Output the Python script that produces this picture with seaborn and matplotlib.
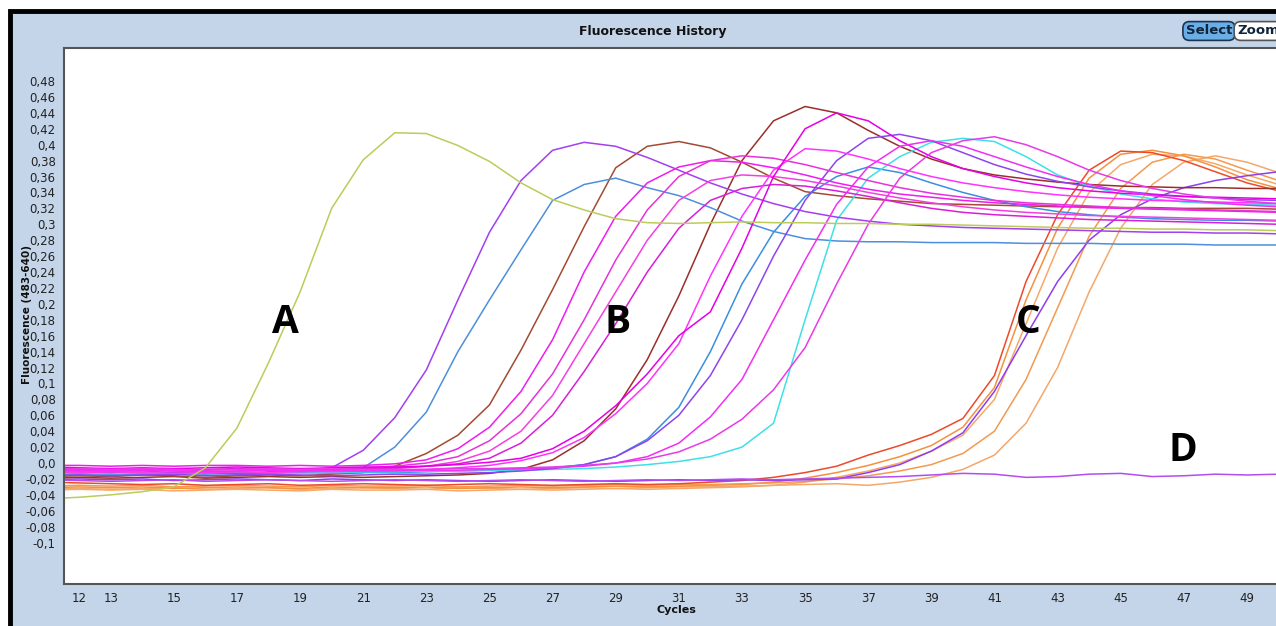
import numpy as np
import pandas as pd
import matplotlib
matplotlib.use("Agg")
import matplotlib.pyplot as plt
import seaborn as sns
from matplotlib import font_manager
from matplotlib.patches import Rectangle

# cycles 11..50 (cycle 11 only shows as the stub at the left edge)
cycles = list(range(11, 51))

# --- curve values (c11-21 / c22-31 / c32-41 / c42-50) ---
curve_a = [-0.045, -0.043, -0.040, -0.036, -0.030, -0.006, 0.044, 0.126, 0.215, 0.320, 0.381,
           0.415, 0.414, 0.399, 0.379, 0.352, 0.331, 0.318, 0.307, 0.302, 0.301,
           0.302, 0.303, 0.302, 0.302, 0.301, 0.301, 0.300, 0.300, 0.299, 0.298,
           0.297, 0.296, 0.295, 0.295, 0.294, 0.294, 0.293, 0.293, 0.292]

b_purple1 = [-0.010, -0.011, -0.012, -0.010, -0.012, -0.011, -0.013, -0.011, -0.010, -0.006, 0.016,
             0.057, 0.117, 0.205, 0.290, 0.355, 0.393, 0.403, 0.398, 0.384, 0.368,
             0.352, 0.338, 0.326, 0.316, 0.309, 0.304, 0.300, 0.298, 0.296, 0.295,
             0.294, 0.293, 0.292, 0.291, 0.290, 0.290, 0.289, 0.289, 0.288]

b_blue1 = [-0.015, -0.014, -0.013, -0.015, -0.013, -0.014, -0.012, -0.013, -0.012, -0.011, -0.006,
           0.020, 0.064, 0.140, 0.205, 0.268, 0.330, 0.350, 0.358, 0.346, 0.336,
           0.321, 0.304, 0.291, 0.282, 0.279, 0.278, 0.278, 0.277, 0.277, 0.277,
           0.276, 0.276, 0.276, 0.275, 0.275, 0.275, 0.274, 0.274, 0.274]

b_brown1 = [-0.017, -0.016, -0.017, -0.015, -0.016, -0.018, -0.016, -0.015, -0.016, -0.014, -0.012,
            -0.004, 0.012, 0.035, 0.073, 0.142, 0.218, 0.297, 0.371, 0.398, 0.404,
            0.396, 0.378, 0.358, 0.341, 0.336, 0.332, 0.329, 0.326, 0.325, 0.324,
            0.323, 0.322, 0.322, 0.321, 0.321, 0.320, 0.320, 0.320, 0.319]

b_mag1 = [-0.003, -0.003, -0.004, -0.003, -0.004, -0.003, -0.003, -0.004, -0.003, -0.004, -0.003,
          -0.001, 0.004, 0.018, 0.045, 0.090, 0.155, 0.240, 0.310, 0.352, 0.372,
          0.380, 0.378, 0.371, 0.362, 0.352, 0.344, 0.338, 0.334, 0.330, 0.327,
          0.325, 0.323, 0.321, 0.320, 0.319, 0.318, 0.317, 0.316, 0.315]

b_mag2 = [-0.009, -0.008, -0.009, -0.008, -0.010, -0.009, -0.008, -0.009, -0.008, -0.007, -0.006,
          -0.004, 0.000, 0.008, 0.028, 0.062, 0.112, 0.180, 0.255, 0.318, 0.360,
          0.380, 0.386, 0.383, 0.375, 0.365, 0.355, 0.346, 0.339, 0.334, 0.330,
          0.327, 0.325, 0.323, 0.321, 0.320, 0.319, 0.318, 0.317, 0.316]

b_mag3 = [-0.011, -0.012, -0.011, -0.012, -0.013, -0.012, -0.011, -0.012, -0.011, -0.010, -0.009,
          -0.007, -0.004, 0.002, 0.015, 0.040, 0.085, 0.150, 0.215, 0.280, 0.330,
          0.355, 0.362, 0.360, 0.355, 0.348, 0.340, 0.333, 0.327, 0.322, 0.318,
          0.315, 0.313, 0.311, 0.310, 0.309, 0.308, 0.307, 0.306, 0.305]

b_mag4 = [-0.008, -0.007, -0.008, -0.007, -0.009, -0.008, -0.007, -0.008, -0.007, -0.008, -0.007,
          -0.006, -0.004, -0.001, 0.006, 0.025, 0.060, 0.115, 0.175, 0.240, 0.295,
          0.330, 0.345, 0.350, 0.348, 0.342, 0.335, 0.327, 0.320, 0.315, 0.312,
          0.310, 0.308, 0.306, 0.305, 0.304, 0.303, 0.302, 0.301, 0.300]

b_brown2 = [-0.019, -0.018, -0.019, -0.018, -0.017, -0.019, -0.018, -0.017, -0.018, -0.017, -0.018,
            -0.017, -0.016, -0.015, -0.013, -0.008, 0.004, 0.028, 0.068, 0.130, 0.210,
            0.300, 0.380, 0.430, 0.448, 0.440, 0.418, 0.398, 0.382, 0.370, 0.362,
            0.357, 0.353, 0.350, 0.348, 0.347, 0.346, 0.346, 0.345, 0.345]

b_mag5 = [-0.011, -0.010, -0.011, -0.010, -0.009, -0.011, -0.010, -0.009, -0.010, -0.011, -0.010,
          -0.009, -0.008, -0.006, -0.003, 0.003, 0.013, 0.032, 0.062, 0.100, 0.150,
          0.235, 0.310, 0.368, 0.395, 0.392, 0.382, 0.370, 0.360, 0.352, 0.346,
          0.341, 0.337, 0.334, 0.332, 0.330, 0.329, 0.328, 0.327, 0.326]

b_mag6 = [-0.005, -0.006, -0.007, -0.006, -0.007, -0.006, -0.005, -0.006, -0.007, -0.006, -0.005,
          -0.005, -0.004, -0.002, 0.001, 0.006, 0.018, 0.040, 0.072, 0.112, 0.160,
          0.190, 0.270, 0.360, 0.420, 0.440, 0.430, 0.405, 0.385, 0.370, 0.360,
          0.352, 0.346, 0.342, 0.339, 0.337, 0.335, 0.334, 0.333, 0.332]

b_blue2 = [-0.014, -0.013, -0.014, -0.013, -0.012, -0.013, -0.014, -0.013, -0.012, -0.013, -0.012,
           -0.012, -0.011, -0.010, -0.009, -0.008, -0.006, -0.002, 0.008, 0.030, 0.070,
           0.140, 0.225, 0.290, 0.335, 0.360, 0.372, 0.365, 0.352, 0.340, 0.330,
           0.322, 0.316, 0.312, 0.309, 0.307, 0.306, 0.305, 0.305, 0.304]

b_purple2 = [-0.016, -0.015, -0.016, -0.015, -0.014, -0.016, -0.015, -0.014, -0.015, -0.016, -0.015,
             -0.014, -0.014, -0.013, -0.012, -0.010, -0.007, -0.002, 0.008, 0.028, 0.060,
             0.110, 0.180, 0.260, 0.330, 0.380, 0.408, 0.413, 0.405, 0.390, 0.375,
             0.363, 0.354, 0.347, 0.342, 0.338, 0.335, 0.333, 0.331, 0.330]

b_mag8 = [-0.010, -0.009, -0.010, -0.009, -0.010, -0.011, -0.010, -0.009, -0.010, -0.009, -0.010,
          -0.010, -0.009, -0.009, -0.008, -0.007, -0.006, -0.004, 0.000, 0.008, 0.025,
          0.058, 0.105, 0.180, 0.255, 0.325, 0.372, 0.398, 0.405, 0.398, 0.385,
          0.372, 0.360, 0.350, 0.342, 0.336, 0.331, 0.327, 0.324, 0.322]

b_cyan = [-0.013, -0.012, -0.013, -0.012, -0.013, -0.012, -0.011, -0.012, -0.013, -0.012, -0.011,
          -0.011, -0.010, -0.010, -0.009, -0.009, -0.008, -0.007, -0.005, -0.002, 0.002,
          0.008, 0.020, 0.050, 0.180, 0.305, 0.358, 0.385, 0.403, 0.408, 0.404,
          0.385, 0.362, 0.348, 0.338, 0.332, 0.328, 0.326, 0.325, 0.324]

b_mag9 = [-0.008, -0.007, -0.008, -0.007, -0.008, -0.009, -0.008, -0.007, -0.008, -0.007, -0.008,
          -0.008, -0.008, -0.007, -0.007, -0.006, -0.005, -0.003, 0.000, 0.005, 0.014,
          0.030, 0.055, 0.092, 0.145, 0.225, 0.300, 0.358, 0.390, 0.405, 0.410,
          0.400, 0.385, 0.368, 0.355, 0.345, 0.338, 0.333, 0.329, 0.326]

c_orange1 = [-0.024, -0.025, -0.026, -0.027, -0.026, -0.028, -0.027, -0.026, -0.028, -0.027, -0.026,
             -0.027, -0.028, -0.027, -0.026, -0.027, -0.028, -0.027, -0.026, -0.027, -0.026,
             -0.024, -0.022, -0.018, -0.012, -0.004, 0.010, 0.022, 0.036, 0.056, 0.110,
             0.228, 0.312, 0.368, 0.392, 0.390, 0.380, 0.366, 0.352, 0.342]

c_orange2 = [-0.031, -0.030, -0.031, -0.030, -0.032, -0.031, -0.030, -0.031, -0.032, -0.030, -0.031,
             -0.031, -0.030, -0.032, -0.031, -0.030, -0.031, -0.030, -0.029, -0.030, -0.029,
             -0.028, -0.027, -0.024, -0.019, -0.012, -0.003, 0.008, 0.022, 0.045, 0.095,
             0.205, 0.295, 0.358, 0.388, 0.393, 0.386, 0.372, 0.356, 0.345]

c_orange3 = [-0.034, -0.033, -0.034, -0.033, -0.035, -0.034, -0.033, -0.034, -0.035, -0.033, -0.034,
             -0.034, -0.033, -0.035, -0.034, -0.033, -0.034, -0.033, -0.032, -0.033, -0.032,
             -0.031, -0.030, -0.028, -0.024, -0.018, -0.010, 0.000, 0.015, 0.035, 0.080,
             0.175, 0.270, 0.340, 0.375, 0.388, 0.386, 0.376, 0.362, 0.350]

c_purple = [-0.021, -0.020, -0.021, -0.020, -0.022, -0.021, -0.020, -0.021, -0.022, -0.020, -0.021,
            -0.022, -0.021, -0.022, -0.023, -0.022, -0.021, -0.022, -0.023, -0.022, -0.021,
            -0.022, -0.021, -0.022, -0.021, -0.020, -0.012, -0.002, 0.015, 0.038, 0.090,
            0.160, 0.228, 0.280, 0.312, 0.332, 0.346, 0.355, 0.361, 0.366]

c_orange4 = [-0.029, -0.028, -0.029, -0.028, -0.030, -0.029, -0.028, -0.029, -0.030, -0.028, -0.029,
             -0.029, -0.028, -0.030, -0.029, -0.028, -0.029, -0.028, -0.027, -0.028, -0.027,
             -0.027, -0.026, -0.025, -0.023, -0.020, -0.016, -0.010, -0.002, 0.012, 0.040,
             0.105, 0.195, 0.285, 0.345, 0.378, 0.388, 0.382, 0.368, 0.355]

c_orange5 = [-0.033, -0.032, -0.033, -0.032, -0.031, -0.033, -0.032, -0.031, -0.033, -0.032, -0.031,
             -0.032, -0.033, -0.031, -0.032, -0.033, -0.032, -0.031, -0.032, -0.031, -0.030,
             -0.030, -0.029, -0.028, -0.027, -0.026, -0.028, -0.024, -0.018, -0.008, 0.010,
             0.050, 0.120, 0.215, 0.295, 0.350, 0.378, 0.386, 0.378, 0.365]

d_purple = [-0.021, -0.022, -0.023, -0.022, -0.021, -0.023, -0.022, -0.021, -0.022, -0.023, -0.022,
            -0.021, -0.022, -0.023, -0.022, -0.021, -0.022, -0.023, -0.022, -0.021, -0.022,
            -0.021, -0.020, -0.021, -0.020, -0.019, -0.018, -0.017, -0.015, -0.013, -0.014,
            -0.018, -0.017, -0.014, -0.013, -0.017, -0.016, -0.014, -0.015, -0.014]

samples = {
    "C orange 5": c_orange5, "C orange 3": c_orange3, "C orange 2": c_orange2,
    "C orange 4": c_orange4, "C orange 1": c_orange1, "C purple": c_purple,
    "D": d_purple,
    "B brown 2": b_brown2, "B brown 1": b_brown1,
    "B blue 1": b_blue1, "B blue 2": b_blue2, "B cyan": b_cyan,
    "B purple 1": b_purple1, "B purple 2": b_purple2,
    "B mag 1": b_mag1, "B mag 2": b_mag2, "B mag 3": b_mag3, "B mag 4": b_mag4,
    "B mag 5": b_mag5, "B mag 6": b_mag6, "B mag 8": b_mag8, "B mag 9": b_mag9,
    "A": curve_a,
}

palette = {
    "A": "#bccb5a",
    "B purple 1": "#a23ff0", "B purple 2": "#8e44ee",
    "B blue 1": "#4d8fdc", "B blue 2": "#3a8fe0", "B cyan": "#3ee0e6",
    "B brown 1": "#a34a32", "B brown 2": "#9a2f2a",
    "B mag 1": "#f01cf0", "B mag 2": "#e633d9", "B mag 3": "#f53fe0",
    "B mag 4": "#d81fd8", "B mag 5": "#ff33ff", "B mag 6": "#e600e6",
    "B mag 8": "#f22ef2", "B mag 9": "#e83ae8",
    "C orange 1": "#ec4a2a", "C orange 2": "#f4913f", "C orange 3": "#f7a868",
    "C orange 4": "#f29a50", "C orange 5": "#f5a76a", "C purple": "#8f3df0",
    "D": "#b44cf0",
}

rows = []
for name, vals in samples.items():
    for c, v in zip(cycles, vals):
        rows.append({"sample": name, "cycle": c, "fluorescence": v})
df = pd.DataFrame(rows)

y_ticks = [round(-0.1 + 0.02 * i, 2) for i in range(30)]
x_ticks = [12, 13] + list(range(15, 50, 2))
letters = [("A", 18.55, 0.177), ("B", 29.07, 0.177), ("C", 42.06, 0.177), ("D", 46.97, 0.016)]

# --- style ---
sns.set_style("white")
font_names = {f.name for f in font_manager.fontManager.ttflist}
tick_font = ["Liberation Sans Narrow", "DejaVu Sans"] if "Liberation Sans Narrow" in font_names else ["DejaVu Sans"]
bold_faces = {f.name for f in font_manager.fontManager.ttflist if f.weight in (700, "bold")}
letter_font = "DejaVu Sans"
for cand in ["Open Sans", "Lato", "Noto Sans", "Liberation Sans"]:
    if cand in bold_faces:
        letter_font = cand
        break
plt.rcParams["font.family"] = ["DejaVu Sans"]

W, H = 1276, 626
fig = plt.figure(figsize=(W / 100, H / 100), dpi=100)
fig.patch.set_facecolor("white")

# light-blue panel with black frame (behind the axes)
panel = Rectangle((10 / W, -0.02), 1.05, 1 - 11 / H + 0.02, transform=fig.transFigure,
                  facecolor="#c5d5e9", edgecolor="black", linewidth=3.5, zorder=-5)
fig.patches.append(panel)

ax = fig.add_axes([64 / W, (H - 584) / H, (W - 64) / W, (584 - 48) / H])
ax.set_zorder(1)
ax.set_facecolor("white")

sns.lineplot(data=df, x="cycle", y="fluorescence", hue="sample", palette=palette,
             legend=False, linewidth=1.1, estimator=None, sort=False, ax=ax)

ax.set_xlim(11.52, 49.92)
ax.set_ylim(-0.152, 0.5215)

ax.set_xticks(x_ticks)
ax.set_xticklabels([str(t) for t in x_ticks])
ax.set_yticks(y_ticks)


def fmt(v):
    s = f"{v:.2f}"
    if s.endswith("0"):
        s = s[:-1]
    if s == "-0.0":
        s = "0.0"
    return s.replace(".", ",")


ax.set_yticklabels([fmt(v) for v in y_ticks])
ax.set_yticks([round(-0.11 + 0.01 * i, 2) for i in range(61)], minor=True)
ax.tick_params(axis="both", which="major", direction="out", length=4, width=0.8,
               color="#666666", labelsize=8.5, labelcolor="#222222", pad=2)
ax.tick_params(axis="y", which="minor", direction="out", length=2, width=0.6, color="#888888")
for lab in ax.get_xticklabels() + ax.get_yticklabels():
    lab.set_family(tick_font)

for side in ["left", "bottom", "top"]:
    ax.spines[side].set_color("#555555")
    ax.spines[side].set_linewidth(1.5)
ax.spines["right"].set_visible(False)
ax.set_xlabel("")
ax.set_ylabel("")

for letter, lx, ly in letters:
    ax.text(lx, ly, letter, fontsize=28, fontweight="bold", color="black",
            ha="center", va="center", family=[letter_font, "DejaVu Sans"])

fig.text(653 / W, 1 - 31 / H, "Fluorescence History", fontsize=9, fontweight="bold",
         ha="center", va="center", color="#111111")
fig.text(27 / W, 1 - 315 / H, "Fluorescence (483-640)", fontsize=7.5, fontweight="bold",
         rotation=90, ha="center", va="center", color="#111111")
fig.text(676 / W, 1 - 610 / H, "Cycles", fontsize=8, fontweight="bold",
         ha="center", va="center", color="#111111")

fig.text(1209 / W, 1 - 31 / H, "Select", fontsize=9.5, fontweight="bold", color="#10243a",
         ha="center", va="center",
         bbox=dict(boxstyle="round,pad=0.22,rounding_size=0.5", fc="#6aaee8", ec="#1d3350", lw=1.2))
fig.text(1258 / W, 1 - 31 / H, "Zoom", fontsize=9.5, fontweight="bold", color="#10243a",
         ha="center", va="center",
         bbox=dict(boxstyle="round,pad=0.22,rounding_size=0.5", fc="white", ec="#555555", lw=1.2))

fig.savefig("out.png", dpi=100)
